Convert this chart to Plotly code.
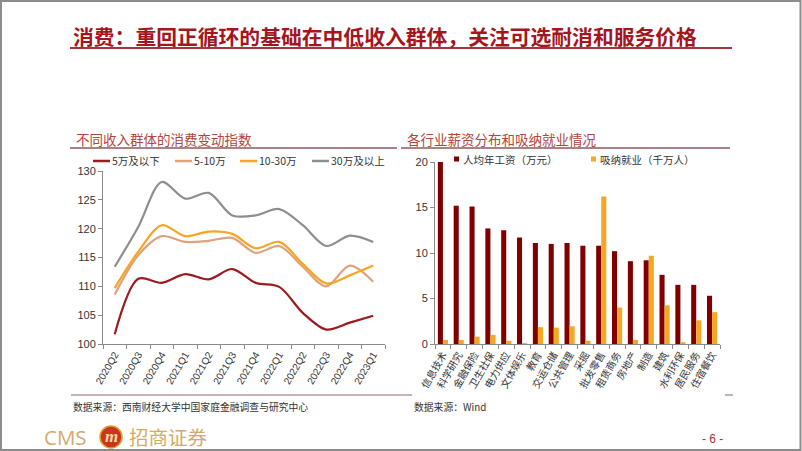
import plotly.graph_objects as go

W, H = 802, 451

# ---------------- data ----------------
quarters = ["2020Q2", "2020Q3", "2020Q4", "2021Q1", "2021Q2", "2021Q3",
            "2021Q4", "2022Q1", "2022Q2", "2022Q3", "2022Q4", "2023Q1"]
income_below5 = [101.7, 111.3, 110.6, 112.1, 111.2, 113.0, 110.6, 109.9, 105.4, 102.5, 103.7, 104.9]
income_5_10 = [108.6, 115.4, 118.7, 117.7, 117.9, 118.4, 115.8, 117.0, 113.4, 110.0, 113.6, 110.8]
income_10_30 = [109.7, 116.0, 120.6, 118.7, 119.5, 119.1, 116.6, 117.7, 113.9, 110.5, 111.9, 113.6]
income_above30 = [113.4, 120.3, 128.1, 125.2, 126.2, 122.3, 122.3, 123.4, 120.6, 117.0, 118.8, 117.7]
income_names = ["5万及以下", "5-10万", "10-30万", "30万及以上"]

industries = ["信息技术", "科学研究", "金融保险", "卫生社保", "电力供应", "文体娱乐",
              "教育", "交运仓储", "公共管理", "采掘", "批发零售", "租赁商务",
              "房地产", "制造", "建筑", "水利环保", "居民服务", "住宿餐饮"]
wage = [20.0, 15.2, 15.1, 12.7, 12.5, 11.7, 11.1, 11.0, 11.1, 10.8,
        10.8, 10.2, 9.1, 9.2, 7.6, 6.5, 6.5, 5.3]
employment = [0.45, 0.45, 0.8, 1.0, 0.35, 0.1, 1.85, 1.8, 1.95, 0.35,
              16.2, 4.0, 0.45, 9.7, 4.25, 0.2, 2.6, 3.5]
bar_names = ["人均年工资（万元）", "吸纳就业（千万人）"]

# ---------------- styles ----------------
line_colors = ["#9B1B1E", "#DFA27E", "#F6A623", "#8E8E8E"]
bar_colors = ["#800000", "#F5A623"]
CJK = "Noto Sans CJK SC"
NUM = "Liberation Sans, Arial"


def px(x):
    return x / W


def py(y):
    return 1 - y / H


fig = go.Figure()

for name, vals, col in zip(income_names,
                           [income_below5, income_5_10, income_10_30, income_above30],
                           line_colors):
    fig.add_trace(go.Scatter(x=quarters, y=vals, name=name, mode="lines",
                             line=dict(color=col, width=2.2, shape="spline", smoothing=0.9),
                             xaxis="x", yaxis="y", showlegend=False))

for name, vals, col in zip(bar_names, [wage, employment], bar_colors):
    fig.add_trace(go.Bar(x=industries, y=vals, name=name, marker_color=col,
                         marker_line_width=0, xaxis="x2", yaxis="y2", showlegend=False))

axis_common = dict(showline=True, linecolor="#8A8A8A", linewidth=1, ticks="outside",
                   tickcolor="#8A8A8A", ticklen=4, showgrid=False, zeroline=False,
                   fixedrange=True, automargin=False)

fig.update_layout(
    template="none",
    width=W, height=H, margin=dict(l=0, r=0, t=0, b=0, pad=0),
    paper_bgcolor="white", plot_bgcolor="white",
    barmode="group", bargap=0.36, bargroupgap=0,
    xaxis=dict(domain=[px(103), px(385)], anchor="y", type="category",
               range=[-0.5, 11.5], tickson="boundaries", tickangle=-60,
               tickfont=dict(family=NUM, size=10, color="#333"), **axis_common),
    yaxis=dict(domain=[py(344), py(171)], anchor="x", range=[100, 130], dtick=5,
               tickfont=dict(family=NUM, size=11, color="#333"), **axis_common),
    xaxis2=dict(domain=[px(435), px(720)], anchor="y2", type="category",
                range=[-0.5, 17.5], tickson="boundaries", tickangle=-60,
                tickfont=dict(family=CJK, size=10, color="#333"), **axis_common),
    yaxis2=dict(domain=[py(344), py(162)], anchor="x2", range=[0, 20], dtick=5,
                tickfont=dict(family=NUM, size=11, color="#333"), **axis_common),
)

shapes = []
annotations = []

# page border
shapes.append(dict(type="rect", xref="paper", yref="paper", x0=px(1), x1=px(800.5),
                   y0=py(450), y1=py(1), line=dict(color="#8C8C8C", width=2)))

# main title
annotations.append(dict(text="<b>消费：重回正循环的基础在中低收入群体，关注可选耐消和服务价格</b>",
                        x=px(71), y=py(36), xref="paper", yref="paper",
                        xanchor="left", yanchor="middle", showarrow=False,
                        font=dict(family=CJK, size=20.8, color="#A3161E")))
shapes.append(dict(type="line", xref="paper", yref="paper", x0=px(70), x1=px(732),
                   y0=py(48), y1=py(48), line=dict(color="#A2343A", width=2)))

# subtitles
annotations.append(dict(text="不同收入群体的消费变动指数", x=px(74), y=py(139),
                        xref="paper", yref="paper", xanchor="left", yanchor="middle",
                        showarrow=False, font=dict(family=CJK, size=13.5, color="#B5443C")))
annotations.append(dict(text="各行业薪资分布和吸纳就业情况", x=px(405), y=py(139),
                        xref="paper", yref="paper", xanchor="left", yanchor="middle",
                        showarrow=False, font=dict(family=CJK, size=13.5, color="#B5443C")))
shapes.append(dict(type="line", xref="paper", yref="paper", x0=px(70), x1=px(397),
                   y0=py(148), y1=py(148), line=dict(color="#A98383", width=2)))
shapes.append(dict(type="line", xref="paper", yref="paper", x0=px(401), x1=px(730),
                   y0=py(148), y1=py(148), line=dict(color="#A98383", width=2)))

# left legend (manual)
leg_x = [93, 175, 240, 312]
for lx, name, col in zip(leg_x, income_names, line_colors):
    shapes.append(dict(type="line", xref="paper", yref="paper", x0=px(lx), x1=px(lx + 17),
                       y0=py(161), y1=py(161), line=dict(color=col, width=2.5)))
    annotations.append(dict(text=name, x=px(lx + 17), y=py(161), xref="paper", yref="paper",
                            xanchor="left", yanchor="middle", showarrow=False,
                            font=dict(family=CJK, size=10.5, color="#333")))

# right legend (manual)
for lx, name, col in zip([454, 591], bar_names, bar_colors):
    shapes.append(dict(type="rect", xref="paper", yref="paper", x0=px(lx), x1=px(lx + 5),
                       y0=py(161.5), y1=py(156.5), fillcolor=col, line=dict(width=0)))
    annotations.append(dict(text=name, x=px(lx + 7), y=py(159), xref="paper", yref="paper",
                            xanchor="left", yanchor="middle", showarrow=False,
                            font=dict(family=CJK, size=10.5, color="#333")))

# footer
shapes.append(dict(type="line", xref="paper", yref="paper", x0=px(71), x1=px(412),
                   y0=py(395), y1=py(395), line=dict(color="#B49A9A", width=1.5)))
shapes.append(dict(type="line", xref="paper", yref="paper", x0=px(725), x1=px(733),
                   y0=py(395), y1=py(395), line=dict(color="#B49A9A", width=1.5)))
annotations.append(dict(text="数据来源：西南财经大学中国家庭金融调查与研究中心", x=px(71), y=py(407),
                        xref="paper", yref="paper", xanchor="left", yanchor="middle",
                        showarrow=False, font=dict(family=CJK, size=9.8, color="#333")))
annotations.append(dict(text="数据来源：Wind", x=px(412), y=py(407),
                        xref="paper", yref="paper", xanchor="left", yanchor="middle",
                        showarrow=False, font=dict(family=CJK, size=9.8, color="#333")))

# logo
annotations.append(dict(text="CMS", x=px(42), y=py(436.5), xref="paper", yref="paper",
                        xanchor="left", yanchor="middle", showarrow=False,
                        font=dict(family="Open Sans, Liberation Sans", size=20.5, color="#D2AA6C")))
shapes.append(dict(type="circle", xref="paper", yref="paper", x0=px(100), x1=px(122),
                   y0=py(448), y1=py(426),
                   fillcolor="#C8361E", line=dict(color="#E0A030", width=1.5)))
annotations.append(dict(text="<b><i>m</i></b>", x=px(111), y=py(436), xref="paper", yref="paper",
                        xanchor="center", yanchor="middle", showarrow=False,
                        font=dict(family="Liberation Serif", size=17, color="#F6D9A0")))
annotations.append(dict(text="招商证券", x=px(127), y=py(436.5), xref="paper", yref="paper",
                        xanchor="left", yanchor="middle", showarrow=False,
                        font=dict(family=CJK, size=19.5, color="#D2AA6C")))
annotations.append(dict(text="- 6 -", x=px(712), y=py(439), xref="paper", yref="paper",
                        xanchor="center", yanchor="middle", showarrow=False,
                        font=dict(family=NUM, size=12, color="#9E2F40")))

fig.update_layout(shapes=shapes, annotations=annotations)

fig.write_html("out.html", config={"displayModeBar": False, "staticPlot": True},
               post_script="document.body.style.margin='0';document.body.style.padding='0';document.body.style.overflow='hidden';")
